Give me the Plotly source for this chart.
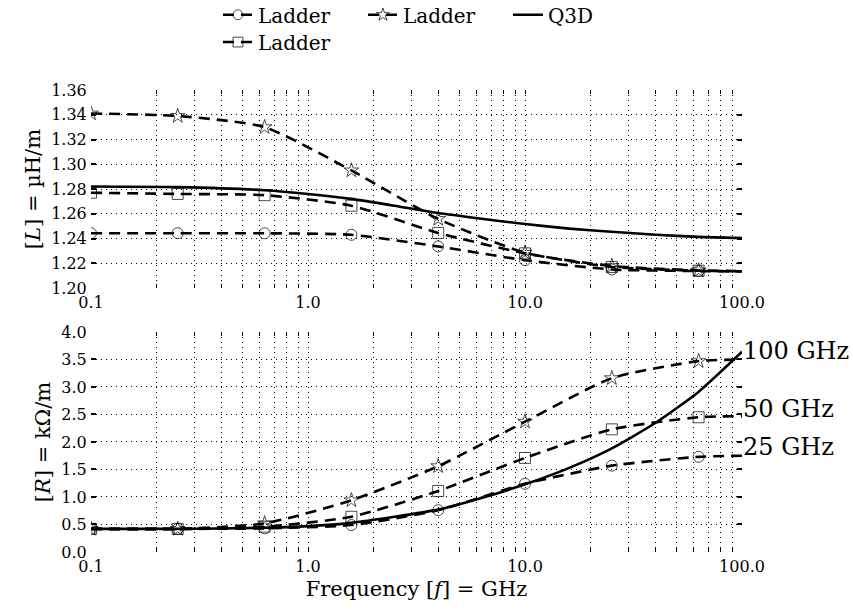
import plotly.graph_objects as go

# ---------------- data ----------------
f_ladder = [0.1, 0.251, 0.631, 1.585, 3.981, 10.0, 25.12, 63.1, 100.0]
L_circle = [1.2443, 1.2443, 1.2442, 1.2430, 1.2336, 1.2225, 1.2150, 1.2137, 1.2133]
L_square = [1.2770, 1.2760, 1.2750, 1.2665, 1.2445, 1.2280, 1.2170, 1.2140, 1.2135]
L_star = [1.3410, 1.3390, 1.3300, 1.2950, 1.2558, 1.2285, 1.2178, 1.2142, 1.2137]

R_circle = [0.42, 0.42, 0.43, 0.49, 0.76, 1.24, 1.57, 1.73, 1.75]
R_square = [0.42, 0.42, 0.46, 0.64, 1.11, 1.71, 2.23, 2.45, 2.47]
R_star = [0.42, 0.42, 0.52, 0.94, 1.56, 2.37, 3.16, 3.47, 3.50]

f_q3d = [0.1, 0.25, 0.63, 1.0, 1.58, 2.5, 3.98, 6.3, 10, 16, 25, 40, 63, 100]
L_q3d = [1.282, 1.2815, 1.279, 1.276, 1.272, 1.2665, 1.2606, 1.256, 1.2517,
         1.248, 1.2455, 1.243, 1.2413, 1.2404]
R_q3d = [0.42, 0.42, 0.44, 0.47, 0.53, 0.64, 0.77, 0.98, 1.23, 1.53, 1.88,
         2.35, 2.91, 3.64]

x_tickvals = [0.1, 0.2, 0.3, 0.4, 0.5, 0.6, 0.7, 0.8, 0.9,
              1, 2, 3, 4, 5, 6, 7, 8, 9,
              10, 20, 30, 40, 50, 60, 70, 80, 90, 100]
x_ticktext = ["0.1"] + [""] * 8 + ["1.0"] + [""] * 8 + ["10.0"] + [""] * 8 + ["100.0"]
L_ticks = [1.20, 1.22, 1.24, 1.26, 1.28, 1.30, 1.32, 1.34, 1.36]
R_ticks = [0.0, 0.5, 1.0, 1.5, 2.0, 2.5, 3.0, 3.5, 4.0]
freq_labels = ["100 GHz", "50 GHz", "25 GHz"]
freq_label_y = [3.65, 2.60, 1.90]

FONT = "DejaVu Serif, serif"
marker_sizes = [11] * (len(f_ladder) - 1) + [0]

fig = go.Figure()

ladders = [
    ("circle-open", L_circle, R_circle, "legend"),
    ("star-open", L_star, R_star, "legend"),
    ("square-open", L_square, R_square, "legend2"),
]

for sym, Lv, Rv, leg in ladders:
    for yv, xa, ya, show in [(Lv, "x", "y", True), (Rv, "x2", "y2", False)]:
        fig.add_trace(go.Scatter(
            x=f_ladder, y=yv, xaxis=xa, yaxis=ya,
            mode="lines+markers", name="Ladder",
            line=dict(color="black", width=2.6, dash="11px,7px", shape="spline", smoothing=0.6),
            marker=dict(symbol=sym, size=marker_sizes, color="black", line=dict(width=1, color="black")),
            showlegend=show, legend=leg, legendgroup=sym,
        ))
    if sym == "star-open":
        for yv, xa, ya, show in [(L_q3d, "x", "y", True), (R_q3d, "x2", "y2", False)]:
            fig.add_trace(go.Scatter(
                x=f_q3d, y=yv, xaxis=xa, yaxis=ya, mode="lines", name="Q3D",
                line=dict(color="black", width=2.6, shape="spline", smoothing=0.6),
                showlegend=show, legend="legend", legendgroup="q3d",
            ))

xcommon = dict(
    type="log", range=[-1, 2], tickvals=x_tickvals, ticktext=x_ticktext,
    showgrid=True, gridcolor="black", griddash="1px,4px", gridwidth=1,
    ticks="inside", ticklen=4, tickwidth=1, tickcolor="black",
    showline=True, linecolor="rgba(0,0,0,0)", mirror="ticks",
    zeroline=False, tickfont=dict(family=FONT, size=16, color="black"),
)
ycommon = dict(
    showgrid=True, gridcolor="black", griddash="1px,4px", gridwidth=1,
    ticks="inside", ticklen=5, tickwidth=1.5, tickcolor="black",
    showline=True, linecolor="rgba(0,0,0,0)", mirror="ticks",
    zeroline=False, tickfont=dict(family=FONT, size=16, color="black"),
)

fig.update_layout(
    width=853, height=612,
    margin=dict(l=91, r=111, t=90, b=60, autoexpand=False),
    plot_bgcolor="white", paper_bgcolor="white",
    font=dict(family=FONT, color="black"),
    xaxis=dict(**xcommon, domain=[0, 1], anchor="y"),
    yaxis=dict(**ycommon, domain=[0.5714, 1.0], range=[1.20, 1.36], tickvals=L_ticks,
               tickformat=".2f", anchor="x",
               title=dict(text="[<i>L</i>] = µH/m", font=dict(family=FONT, size=21), standoff=4)),
    xaxis2=dict(**xcommon, domain=[0, 1], anchor="y2",
                title=dict(text="Frequency [<i>f</i>] = GHz", font=dict(family=FONT, size=21), standoff=6)),
    yaxis2=dict(**ycommon, domain=[0.0, 0.4762], range=[0.0, 4.0], tickvals=R_ticks,
                tickformat=".1f", anchor="x2",
                title=dict(text="[<i>R</i>] = kΩ/m", font=dict(family=FONT, size=21), standoff=4)),
    legend=dict(orientation="h", x=0.195, y=1.205, xanchor="left", yanchor="top",
                font=dict(family=FONT, size=20), bgcolor="rgba(0,0,0,0)",
                entrywidth=100, entrywidthmode="pixels", itemwidth=30, tracegroupgap=0),
    legend2=dict(orientation="h", x=0.195, y=1.146, xanchor="left", yanchor="top",
                 font=dict(family=FONT, size=20), bgcolor="rgba(0,0,0,0)", itemwidth=30),
)

for txt, yy in zip(freq_labels, freq_label_y):
    fig.add_annotation(x=1.0, xref="paper", y=yy, yref="y2", text=txt, showarrow=False,
                       xanchor="left", yanchor="middle", xshift=-1,
                       font=dict(family=FONT, size=24, color="black"))

fig.write_html("out.html")
